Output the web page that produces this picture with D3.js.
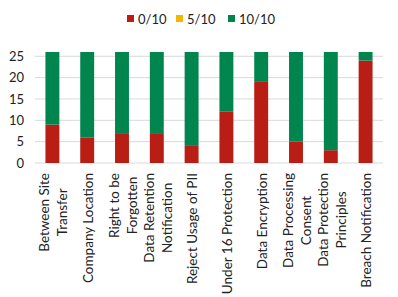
<!DOCTYPE html>
<html>
<head>
<meta charset="utf-8">
<script src="https://cdn.jsdelivr.net/npm/d3@7"></script>
<style>
  body { margin: 0; background: #fff; }
  svg text { font-family: Lato, "Open Sans", sans-serif; fill: #222; }
</style>
</head>
<body>
<svg id="chart" width="398" height="297"></svg>
<script>
const categories = [
  ["Between Site", "Transfer"],
  ["Company Location"],
  ["Right to be", "Forgotten"],
  ["Data Retention", "Notification"],
  ["Reject Usage of PII"],
  ["Under 16 Protection"],
  ["Data Encryption"],
  ["Data Processing", "Consent"],
  ["Data Protection", "Principles"],
  ["Breach Notification"]
]
const score0 = [9, 6, 7, 7, 4, 12, 19, 5, 3, 24]
const score5 = [0, 0, 0, 0, 0, 0, 0, 0, 0, 0]
const score10 = [17, 20, 19, 19, 22, 14, 7, 21, 23, 2]
const seriesNames = ["0/10", "5/10", "10/10"]
const colors = ["#b81e14", "#f2b700", "#00854f"]
const yTicks = [0, 5, 10, 15, 20, 25]

const margin = {top: 52, right: 15, bottom: 134, left: 35}
const width = 398 - margin.left - margin.right
const height = 297 - margin.top - margin.bottom

const rows = categories.map((c, i) => ({key: i, s0: score0[i], s5: score5[i], s10: score10[i]}))
const stack = d3.stack().keys(["s0", "s5", "s10"])(rows)

const svg = d3.select('#chart')
  .append('g')
    .attr('transform', 'translate(' + margin.left + ',' + margin.top + ')')

const x = d3.scaleBand()
  .domain(d3.range(categories.length))
  .range([0, width])
  .paddingInner(0.6)
  .paddingOuter(0.3)

const y = d3.scaleLinear()
  .domain([0, 26])
  .range([height, 0])

// gridlines
svg.append('g')
  .selectAll('line')
  .data(yTicks)
  .join('line')
    .attr('x1', 0)
    .attr('x2', width)
    .attr('y1', d => y(d))
    .attr('y2', d => y(d))
    .attr('stroke', '#d9d9d9')
    .attr('stroke-width', 1)

// y labels
svg.append('g')
  .selectAll('text')
  .data(yTicks)
  .join('text')
    .attr('x', -11)
    .attr('y', d => y(d))
    .attr('dy', '0.35em')
    .attr('text-anchor', 'end')
    .style('font-size', '13px')
    .text(d => d)

// bars
svg.append('g')
  .selectAll('g')
  .data(stack)
  .join('g')
    .attr('fill', (d, i) => colors[i])
  .selectAll('rect')
  .data(d => d)
  .join('rect')
    .attr('x', (d, i) => x(i))
    .attr('width', x.bandwidth())
    .attr('y', d => y(d[1]))
    .attr('height', d => y(d[0]) - y(d[1]))

// category labels, rotated, lines centred on each other
const labels = svg.append('g')
  .attr('transform', 'translate(0,' + (height + 10) + ')')

categories.forEach((lines, i) => {
  const cx = x(i) + x.bandwidth() / 2
  const g = labels.append('g')
  const texts = g.selectAll('text')
    .data(lines)
    .join('text')
      .style('font-size', '13.5px')
      .attr('text-anchor', 'middle')
      .attr('dy', '0.35em')
      .text(d => d)
  const longest = d3.max(texts.nodes(), n => n.getComputedTextLength())
  const lineH = 18
  texts.attr('transform', (d, j) => {
    const off = (j - (lines.length - 1) / 2) * lineH
    return 'translate(' + (cx + off + 1) + ',' + (longest / 2) + ') rotate(-90)'
  })
})

// legend
const legend = svg.append('g')
  .attr('transform', 'translate(0,' + (-33) + ')')
const legendX = [92, 141, 193]
seriesNames.forEach((name, i) => {
  legend.append('rect')
    .attr('x', legendX[i])
    .attr('y', -4)
    .attr('width', 7)
    .attr('height', 7)
    .attr('fill', colors[i])
  legend.append('text')
    .attr('x', legendX[i] + 11)
    .attr('y', 0)
    .attr('dy', '0.35em')
    .style('font-size', '13px')
    .text(name)
})
</script>
</body>
</html>
